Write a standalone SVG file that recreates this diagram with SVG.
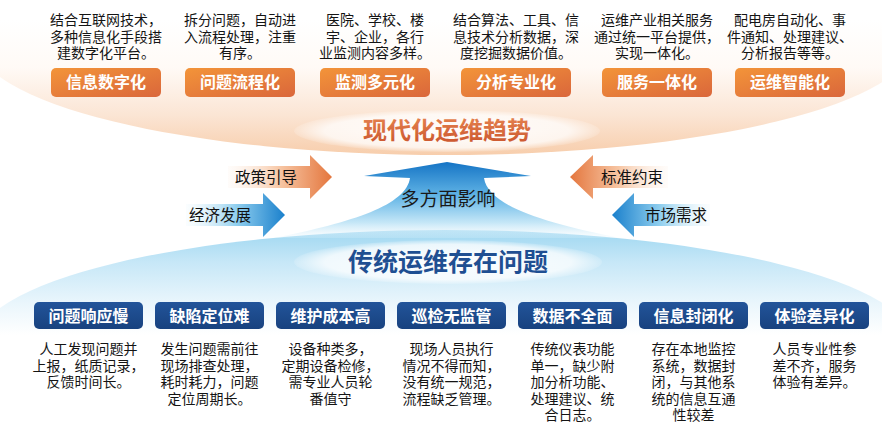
<svg xmlns="http://www.w3.org/2000/svg" width="882" height="433" viewBox="0 0 882 433">
<defs>
  <linearGradient id="gTop" gradientUnits="userSpaceOnUse" x1="0" y1="20" x2="0" y2="156">
    <stop offset="0" stop-color="#ffffff"/>
    <stop offset="0.35" stop-color="#fffaf6"/>
    <stop offset="0.7" stop-color="#fbe5d4"/>
    <stop offset="1" stop-color="#f7cdab"/>
  </linearGradient>
  <linearGradient id="gBot" gradientUnits="userSpaceOnUse" x1="0" y1="230" x2="0" y2="335">
    <stop offset="0" stop-color="#9fd7f1"/>
    <stop offset="0.3" stop-color="#c6e7f7"/>
    <stop offset="0.7" stop-color="#eaf6fc"/>
    <stop offset="1" stop-color="#ffffff"/>
  </linearGradient>
  <radialGradient id="gGlow" cx="0.5" cy="0.5" r="0.5">
    <stop offset="0" stop-color="#ffffff" stop-opacity="0.95"/>
    <stop offset="0.8" stop-color="#ffffff" stop-opacity="0.75"/>
    <stop offset="1" stop-color="#ffffff" stop-opacity="0.15"/>
  </radialGradient>
  <linearGradient id="gBig" gradientUnits="userSpaceOnUse" x1="0" y1="162" x2="0" y2="238">
    <stop offset="0" stop-color="#1574c5"/>
    <stop offset="0.45" stop-color="#62b5e6"/>
    <stop offset="0.8" stop-color="#c6e7f7"/>
    <stop offset="1" stop-color="#e6f5fc" stop-opacity="0.2"/>
  </linearGradient>
  <linearGradient id="gOrR" x1="0" y1="0" x2="1" y2="0">
    <stop offset="0" stop-color="#fdf0e6" stop-opacity="0.2"/>
    <stop offset="0.5" stop-color="#f7c6a4"/>
    <stop offset="1" stop-color="#e4763d"/>
  </linearGradient>
  <linearGradient id="gOrL" x1="1" y1="0" x2="0" y2="0">
    <stop offset="0" stop-color="#fdf0e6" stop-opacity="0.2"/>
    <stop offset="0.5" stop-color="#f7c6a4"/>
    <stop offset="1" stop-color="#e4763d"/>
  </linearGradient>
  <linearGradient id="gBlR" x1="0" y1="0" x2="1" y2="0">
    <stop offset="0" stop-color="#e8f6fc" stop-opacity="0.2"/>
    <stop offset="0.5" stop-color="#92d0ef"/>
    <stop offset="1" stop-color="#1a80cc"/>
  </linearGradient>
  <linearGradient id="gBlL" x1="1" y1="0" x2="0" y2="0">
    <stop offset="0" stop-color="#e8f6fc" stop-opacity="0.2"/>
    <stop offset="0.5" stop-color="#92d0ef"/>
    <stop offset="1" stop-color="#1a80cc"/>
  </linearGradient>
  <linearGradient id="gOBox" x1="0" y1="0" x2="1" y2="1">
    <stop offset="0" stop-color="#f39439"/>
    <stop offset="1" stop-color="#da673b"/>
  </linearGradient>
  <linearGradient id="gBBox" x1="0" y1="0" x2="0" y2="1">
    <stop offset="0" stop-color="#22549a"/>
    <stop offset="1" stop-color="#18427f"/>
  </linearGradient>
  <linearGradient id="gTitleO" x1="0" y1="0" x2="0" y2="1">
    <stop offset="0" stop-color="#ea8a55"/>
    <stop offset="1" stop-color="#c9532c"/>
  </linearGradient>
</defs>
<style>
  text { font-family: "Noto Sans CJK SC", "Noto Sans", sans-serif; }
  .desc { font-size: 14px; fill: #141414; text-anchor: middle; }
  .olab { font-size: 16px; font-weight: 700; fill: #ffffff; text-anchor: middle; }
  .blab { font-size: 16px; font-weight: 700; fill: #ffffff; text-anchor: middle; }
  .obox { fill: url(#gOBox); }
  .bbox { fill: url(#gBBox); }
  .alab { font-size: 15.5px; fill: #111111; text-anchor: middle; }
</style>
<rect width="882" height="433" fill="#ffffff"/>

<!-- background bands -->
<ellipse cx="445" cy="40" rx="470" ry="115" fill="url(#gTop)"/>
<ellipse cx="445" cy="345" rx="470" ry="115" fill="url(#gBot)"/>
<rect x="0" y="433" width="882" height="0" fill="none"/>

<g id="connectors">
  <g id="arrow-main">
    <path d="M447,162 L531,176 L484,178 C488,205 540,222 620,238 L274,238 C354,222 406,205 410,178 L364,176 Z" fill="url(#gBig)"/>
    <text x="448" y="206" style="font-size:19px;fill:#1a1a1a;text-anchor:middle">多方面影响</text>
  </g>
  <g id="arrow-policy">
    <path d="M228,166 L310,166 L310,155 L332,177 L310,199 L310,188 L228,188 Z" fill="url(#gOrR)"/>
    <text class="alab" x="266" y="183">政策引导</text>
  </g>
  <g id="arrow-economy">
    <path d="M186,204 L263,204 L263,193 L285,215 L263,237 L263,226 L186,226 Z" fill="url(#gBlR)"/>
    <text class="alab" x="220" y="221">经济发展</text>
  </g>
  <g id="arrow-standard">
    <path d="M668,166 L593,166 L593,155 L570,177 L593,199 L593,188 L668,188 Z" fill="url(#gOrL)"/>
    <text class="alab" x="632" y="183">标准约束</text>
  </g>
  <g id="arrow-market">
    <path d="M710,204 L634,204 L634,193 L612,215 L634,237 L634,226 L710,226 Z" fill="url(#gBlL)"/>
    <text class="alab" x="676" y="221">市场需求</text>
  </g>
</g>

<g id="title-modern">
  <ellipse cx="447" cy="131" rx="153" ry="21" fill="url(#gGlow)"/>
  <text x="447" y="139" style="font-size:24px;font-weight:700;fill:url(#gTitleO);text-anchor:middle">现代化运维趋势</text>
</g>
<g id="title-traditional">
  <ellipse cx="448" cy="262" rx="154" ry="22" fill="url(#gGlow)"/>
  <text x="448" y="271" style="font-size:25px;font-weight:700;fill:#1f4f92;text-anchor:middle">传统运维存在问题</text>
</g>

<!-- top trend nodes -->
<g id="trend-1">
  <text class="desc" x="106"><tspan x="106" y="25">结合互联网技术，</tspan><tspan x="106" y="41.5">多种信息化手段搭</tspan><tspan x="106" y="58">建数字化平台。</tspan></text>
  <rect class="obox" x="51" y="68" width="110" height="29" rx="5"/>
  <text class="olab" x="106" y="88">信息数字化</text>
</g>
<g id="trend-2">
  <text class="desc" x="240"><tspan x="240" y="25">拆分问题，自动进</tspan><tspan x="240" y="41.5">入流程处理，注重</tspan><tspan x="240" y="58">有序。</tspan></text>
  <rect class="obox" x="185" y="68" width="110" height="29" rx="5"/>
  <text class="olab" x="240" y="88">问题流程化</text>
</g>
<g id="trend-3">
  <text class="desc" x="375"><tspan x="375" y="25">医院、学校、楼</tspan><tspan x="375" y="41.5">宇、企业，各行</tspan><tspan x="375" y="58">业监测内容多样。</tspan></text>
  <rect class="obox" x="320" y="68" width="110" height="29" rx="5"/>
  <text class="olab" x="375" y="88">监测多元化</text>
</g>
<g id="trend-4">
  <text class="desc" x="516"><tspan x="516" y="25">结合算法、工具、信</tspan><tspan x="516" y="41.5">息技术分析数据，深</tspan><tspan x="516" y="58">度挖掘数据价值。</tspan></text>
  <rect class="obox" x="461" y="68" width="110" height="29" rx="5"/>
  <text class="olab" x="516" y="88">分析专业化</text>
</g>
<g id="trend-5">
  <text class="desc" x="657"><tspan x="657" y="25">运维产业相关服务</tspan><tspan x="657" y="41.5">通过统一平台提供，</tspan><tspan x="657" y="58">实现一体化。</tspan></text>
  <rect class="obox" x="602" y="68" width="110" height="29" rx="5"/>
  <text class="olab" x="657" y="88">服务一体化</text>
</g>
<g id="trend-6">
  <text class="desc" x="790"><tspan x="790" y="25">配电房自动化、事</tspan><tspan x="790" y="41.5">件通知、处理建议、</tspan><tspan x="790" y="58">分析报告等等。</tspan></text>
  <rect class="obox" x="735" y="68" width="110" height="29" rx="5"/>
  <text class="olab" x="790" y="88">运维智能化</text>
</g>

<!-- bottom problem nodes -->
<g id="problem-1">
  <rect class="bbox" x="34" y="302" width="109" height="27" rx="5"/>
  <text class="blab" x="88.5" y="321.5">问题响应慢</text>
  <text class="desc"><tspan x="88.5" y="354">人工发现问题并</tspan><tspan x="88.5" y="370.5">上报，纸质记录，</tspan><tspan x="88.5" y="387">反馈时间长。</tspan></text>
</g>
<g id="problem-2">
  <rect class="bbox" x="155" y="302" width="109" height="27" rx="5"/>
  <text class="blab" x="209.5" y="321.5">缺陷定位难</text>
  <text class="desc"><tspan x="209.5" y="354">发生问题需前往</tspan><tspan x="209.5" y="370.5">现场排查处理，</tspan><tspan x="209.5" y="387">耗时耗力，问题</tspan><tspan x="209.5" y="403.5">定位周期长。</tspan></text>
</g>
<g id="problem-3">
  <rect class="bbox" x="276" y="302" width="109" height="27" rx="5"/>
  <text class="blab" x="330.5" y="321.5">维护成本高</text>
  <text class="desc"><tspan x="330.5" y="354">设备种类多，</tspan><tspan x="330.5" y="370.5">定期设备检修，</tspan><tspan x="330.5" y="387">需专业人员轮</tspan><tspan x="330.5" y="403.5">番值守</tspan></text>
</g>
<g id="problem-4">
  <rect class="bbox" x="397" y="302" width="109" height="27" rx="5"/>
  <text class="blab" x="451.5" y="321.5">巡检无监管</text>
  <text class="desc"><tspan x="451.5" y="354">现场人员执行</tspan><tspan x="451.5" y="370.5">情况不得而知，</tspan><tspan x="451.5" y="387">没有统一规范，</tspan><tspan x="451.5" y="403.5">流程缺乏管理。</tspan></text>
</g>
<g id="problem-5">
  <rect class="bbox" x="518" y="302" width="109" height="27" rx="5"/>
  <text class="blab" x="572.5" y="321.5">数据不全面</text>
  <text class="desc"><tspan x="572.5" y="354">传统仪表功能</tspan><tspan x="572.5" y="370.5">单一，缺少附</tspan><tspan x="572.5" y="387">加分析功能、</tspan><tspan x="572.5" y="403.5">处理建议、统</tspan><tspan x="572.5" y="420">合日志。</tspan></text>
</g>
<g id="problem-6">
  <rect class="bbox" x="639" y="302" width="109" height="27" rx="5"/>
  <text class="blab" x="693.5" y="321.5">信息封闭化</text>
  <text class="desc"><tspan x="693.5" y="354">存在本地监控</tspan><tspan x="693.5" y="370.5">系统，数据封</tspan><tspan x="693.5" y="387">闭，与其他系</tspan><tspan x="693.5" y="403.5">统的信息互通</tspan><tspan x="693.5" y="420">性较差</tspan></text>
</g>
<g id="problem-7">
  <rect class="bbox" x="760" y="302" width="109" height="27" rx="5"/>
  <text class="blab" x="814.5" y="321.5">体验差异化</text>
  <text class="desc"><tspan x="814.5" y="354">人员专业性参</tspan><tspan x="814.5" y="370.5">差不齐，服务</tspan><tspan x="814.5" y="387">体验有差异。</tspan></text>
</g>
</svg>
